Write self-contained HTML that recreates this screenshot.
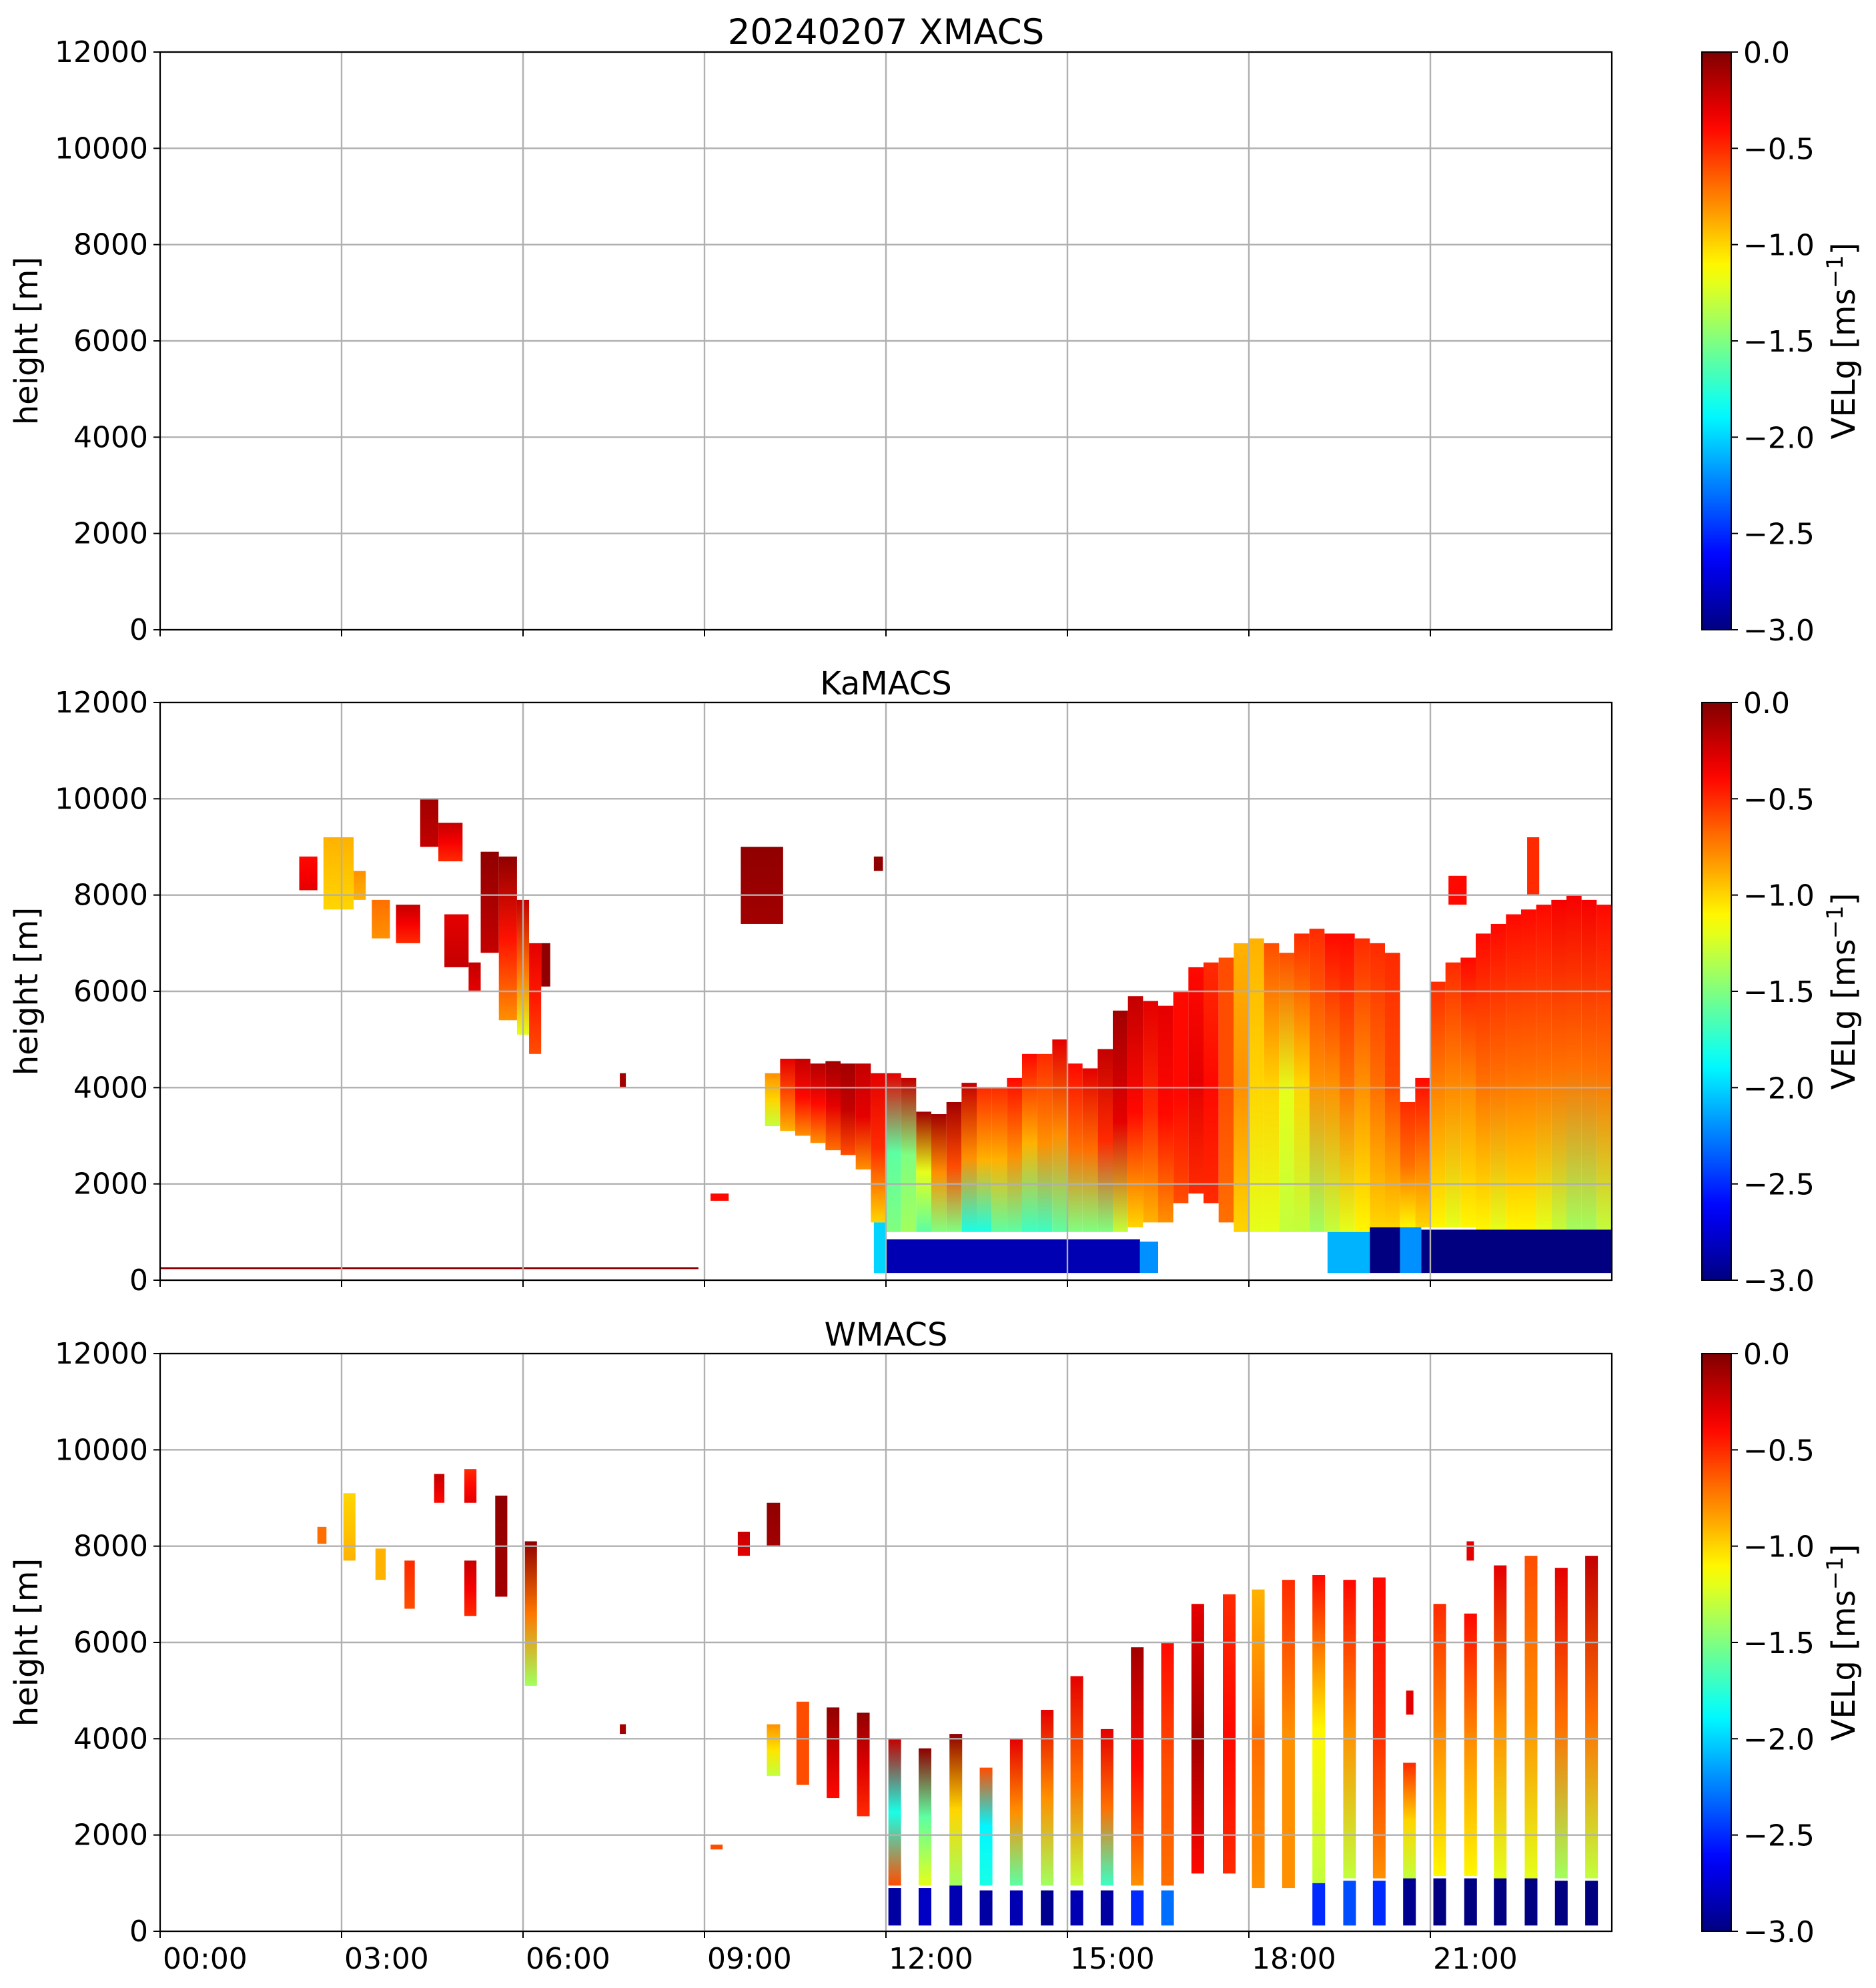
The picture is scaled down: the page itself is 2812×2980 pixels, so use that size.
<!DOCTYPE html>
<html><head><meta charset="utf-8">
<style>
html,body{margin:0;padding:0;background:#fff;}
svg{display:block;font-family:"DejaVu Sans","Liberation Sans",sans-serif;}
</style></head>
<body>
<svg id="fig" xmlns="http://www.w3.org/2000/svg" width="2812" height="2980" viewBox="0 0 2812 2980">
<defs id="defs"></defs>
<rect x="0" y="0" width="2812" height="2980" fill="#fff"/>
<g id="root"></g>
</svg>
<script>
// ---------- data ----------
const panelTitles = ["20240207 XMACS", "KaMACS", "WMACS"];
const heightTicks = [0, 2000, 4000, 6000, 8000, 10000, 12000];
const timeTicks = [0, 3, 6, 9, 12, 15, 18, 21];
const timeTickLabels = ["00:00", "03:00", "06:00", "09:00", "12:00", "15:00", "18:00", "21:00"];
const cbarTicks = [0, -0.5, -1, -1.5, -2, -2.5, -3];
const cbarTickLabels = ["0.0", "\u22120.5", "\u22121.0", "\u22121.5", "\u22122.0", "\u22122.5", "\u22123.0"];

// KaMACS main cloud columns (start hour, width 0.25 h)
const kaT = [10,10.25,10.5,10.75,11,11.25,11.5,11.75,12,12.25,12.5,12.75,13,13.25,13.5,13.75,14,14.25,14.5,14.75,15,15.25,15.5,15.75,16,16.25,16.5,16.75,17,17.25,17.5,17.75,18,18.25,18.5,18.75,19,19.25,19.5,19.75,20,20.25,20.5,20.75,21,21.25,21.5,21.75,22,22.25,22.5,22.75,23,23.25,23.5,23.75];
const kaTop = [4300,4600,4600,4500,4550,4500,4500,4300,4300,4200,3500,3450,3700,4100,4000,4000,4200,4700,4700,5000,4500,4400,4800,5600,5900,5800,5700,6000,6500,6600,6700,7000,7100,7000,6800,7200,7300,7200,7200,7100,7000,6800,3700,4200,6200,6600,6700,7200,7400,7600,7700,7800,7900,8000,7900,7800];
const kaBase = [3200,3100,3000,2850,2700,2600,2300,1200,1000,1000,1000,1000,1000,1000,1000,1000,1000,1000,1000,1000,1000,1000,1000,1000,1100,1200,1200,1600,1800,1600,1200,1000,1000,1000,1000,1000,1000,1000,1000,1000,1100,1100,1100,1100,1100,1100,1100,1050,1050,1050,1050,1050,1000,1000,1000,1000];
const kaVTop = [-0.8,-0.3,-0.2,-0.15,-0.1,-0.1,-0.2,-0.3,-0.3,-0.2,-0.1,-0.1,-0.1,-0.2,-0.5,-0.5,-0.4,-0.4,-0.5,-0.3,-0.4,-0.3,-0.2,-0.1,-0.2,-0.3,-0.3,-0.4,-0.4,-0.5,-0.6,-0.9,-0.9,-0.6,-0.6,-0.5,-0.5,-0.4,-0.4,-0.5,-0.5,-0.5,-0.5,-0.4,-0.5,-0.5,-0.4,-0.4,-0.4,-0.4,-0.4,-0.4,-0.35,-0.35,-0.35,-0.4];
const kaVMid = [-1.0,-0.6,-0.4,-0.4,-0.3,-0.2,-0.3,-0.5,-1.6,-1.5,-1.2,-0.8,-0.6,-0.8,-0.9,-0.9,-0.8,-0.9,-0.8,-0.8,-0.7,-0.7,-0.5,-0.3,-0.4,-0.5,-0.4,-0.4,-0.3,-0.4,-0.6,-0.8,-1.0,-1.0,-1.2,-1.0,-0.8,-0.8,-0.7,-0.8,-0.7,-0.6,-0.7,-0.7,-0.8,-0.8,-0.8,-0.7,-0.7,-0.7,-0.7,-0.7,-0.7,-0.7,-0.7,-0.7];
const kaVBot = [-1.3,-0.9,-0.8,-0.8,-0.7,-0.6,-0.8,-1.0,-1.5,-1.4,-1.6,-1.5,-1.5,-1.8,-1.8,-1.6,-1.6,-1.7,-1.7,-1.6,-1.5,-1.5,-1.5,-1.3,-1.0,-0.9,-0.8,-0.6,-0.5,-0.5,-0.7,-1.0,-1.2,-1.2,-1.3,-1.3,-1.4,-1.3,-1.2,-1.1,-1.0,-1.0,-1.1,-1.0,-1.1,-1.2,-1.1,-1.1,-1.2,-1.1,-1.1,-1.2,-1.3,-1.4,-1.4,-1.3];

// KaMACS rain layer
const kaRainT0 = [11.8,12.0,16.2,19.3,20.0,20.5,20.85];
const kaRainT1 = [12.0,16.2,16.5,20.0,20.5,20.85,24.0];
const kaRainTop = [1200,850,800,1000,1100,1100,1050];
const kaRainV = [-2.0,-2.85,-2.2,-2.1,-3.0,-2.2,-3.0];

// KaMACS isolated cloud blocks
const kaBlkT0 = [2.3,2.7,3.2,3.5,3.9,4.3,4.6,4.7,5.1,5.3,5.6,5.9,6.1,6.3,7.6,9.6,11.8,9.1,21.3,22.6];
const kaBlkT1 = [2.6,3.2,3.4,3.8,4.3,4.6,5.0,5.1,5.3,5.6,5.9,6.1,6.3,6.45,7.7,10.3,11.95,9.4,21.6,22.8];
const kaBlkBase = [8100,7700,7900,7100,7000,9000,8700,6500,6000,6800,5400,5100,4700,6100,4000,7400,8500,1650,7800,8000];
const kaBlkTop = [8800,9200,8500,7900,7800,10000,9500,7600,6600,8900,8800,7900,7000,7000,4300,9000,8800,1800,8400,9200];
const kaBlkVTop = [-0.4,-0.9,-0.8,-0.7,-0.2,-0.1,-0.2,-0.3,-0.2,-0.05,-0.05,-0.2,-0.3,-0.05,-0.1,-0.05,-0.05,-0.4,-0.4,-0.5];
const kaBlkVBot = [-0.3,-1.0,-0.9,-0.8,-0.5,-0.2,-0.5,-0.2,-0.3,-0.2,-0.8,-1.2,-0.6,-0.05,-0.1,-0.1,-0.05,-0.4,-0.4,-0.5];

// WMACS stripes (start hour, width 0.21 h)
const wT0 = [12.04,12.54,13.05,13.55,14.05,14.56,15.05,15.55,16.05,16.55,17.05,17.57,18.05,18.55,19.05,19.56,20.05,20.55,21.05,21.56,22.05,22.56,23.06,23.56];
const wTop = [4000,3800,4100,3400,4000,4600,5300,4200,5900,6000,6800,7000,7100,7300,7400,7300,7350,3500,6800,6600,7600,7800,7550,7800];
const wBase = [950,950,950,950,950,950,950,950,950,950,1200,1200,900,900,1000,1100,1100,1100,1150,1150,1100,1100,1100,1100];
const wVTop = [-0.2,-0.05,-0.05,-0.6,-0.3,-0.3,-0.3,-0.3,-0.1,-0.4,-0.3,-0.5,-0.9,-0.5,-0.4,-0.4,-0.4,-0.5,-0.5,-0.4,-0.3,-0.6,-0.3,-0.2];
const wVMid = [-1.8,-1.6,-1.0,-1.9,-0.8,-0.8,-0.7,-0.7,-0.4,-0.6,-0.1,-0.4,-0.7,-0.8,-1.1,-0.8,-0.5,-1.0,-0.8,-0.8,-0.8,-0.8,-0.7,-0.7];
const wVBot = [-0.6,-1.2,-1.4,-1.8,-1.6,-1.4,-1.3,-1.7,-0.8,-0.7,-0.4,-0.5,-0.8,-0.8,-1.3,-1.3,-0.8,-1.3,-1.1,-1.1,-1.2,-1.2,-1.4,-1.3];
const wRainTop = [900,900,950,850,850,850,850,850,850,850,0,0,0,0,1000,1050,1050,1100,1100,1100,1100,1100,1050,1050];
const wRainV = [-2.9,-2.8,-2.85,-2.9,-2.85,-2.95,-2.85,-2.9,-2.5,-2.3,0,0,0,0,-2.5,-2.4,-2.5,-2.95,-3.0,-3.0,-3.0,-3.0,-3.0,-3.0];

// WMACS isolated blocks
const wBlkT0 = [2.6,3.03,3.56,4.04,4.53,5.03,5.03,5.54,6.03,7.6,9.1,9.55,10.03,10.03,10.52,11.02,11.52,20.6,21.6];
const wBlkT1 = [2.75,3.23,3.73,4.21,4.70,5.23,5.23,5.74,6.23,7.7,9.3,9.75,10.25,10.25,10.73,11.23,11.73,20.72,21.72];
const wBlkBase = [8050,7700,7300,6700,8900,8900,6550,6950,5100,4100,1700,7800,8000,3230,3040,2770,2390,4500,7700];
const wBlkTop = [8400,9100,7950,7700,9500,9600,7700,9050,8100,4300,1800,8300,8900,4300,4770,4650,4540,5000,8100];
const wBlkVTop = [-0.7,-1.0,-0.9,-0.5,-0.2,-0.5,-0.2,-0.05,-0.05,-0.1,-0.6,-0.2,-0.05,-0.8,-0.6,-0.05,-0.05,-0.3,-0.3];
const wBlkVBot = [-0.7,-0.9,-0.9,-0.6,-0.4,-0.3,-0.5,-0.1,-1.4,-0.1,-0.6,-0.3,-0.1,-1.3,-0.6,-0.4,-0.5,-0.3,-0.3];

// ---------- layout ----------
const NS = "http://www.w3.org/2000/svg";
const AX_L = 240, AX_R = 2416, AX_H = 866;
const panelTops = [78, 1053, 2029];
const CB_L = 2551, CB_W = 44;
const root = document.getElementById("root");
const defs = document.getElementById("defs");

function xs(h){ return AX_L + h / 24 * (AX_R - AX_L); }
function ys(m, top){ return top + AX_H * (1 - m / 12000); }
function clamp(v){ return Math.max(0, Math.min(1, v)); }
function jet(v){
  const t = clamp((v + 3) / 3);
  const r = clamp(1.5 - Math.abs(4*t - 3));
  const g = clamp(1.5 - Math.abs(4*t - 2));
  const b = clamp(1.5 - Math.abs(4*t - 1));
  return "rgb(" + Math.round(r*255) + "," + Math.round(g*255) + "," + Math.round(b*255) + ")";
}
function mk(tag, attrs, parent){
  const e = document.createElementNS(NS, tag);
  for (const k in attrs) e.setAttribute(k, attrs[k]);
  (parent || root).appendChild(e);
  return e;
}
let gid = 0;
function grad(vals){
  const id = "g" + (gid++);
  const g = mk("linearGradient", {id: id, x1: 0, y1: 0, x2: 0, y2: 1}, defs);
  vals.forEach((v, i) => mk("stop", {offset: (i / (vals.length - 1)).toFixed(3), "stop-color": jet(v)}, g));
  return "url(#" + id + ")";
}
function text(x, y, s, size, anchor, parent, name, rot){
  const t = mk("text", {x: x, y: y, "font-size": size, "text-anchor": anchor, fill: "#000"}, parent);
  if (rot) t.setAttribute("transform", "rotate(-90 " + x + " " + y + ")");
  
  
  t.textContent = s;
  return t;
}

panelTops.forEach((top, p) => {
  const g = mk("g", {});
  
  
  const clipId = "clip" + p;
  const cp = mk("clipPath", {id: clipId}, defs);
  mk("rect", {x: AX_L, y: top, width: AX_R - AX_L, height: AX_H}, cp);
  const data = mk("g", {"clip-path": "url(#" + clipId + ")"}, g);
  
  

  function block(t0, t1, base, topM, vals, name){
    const r = mk("rect", {x: xs(t0), y: ys(topM, top), width: Math.max(1, xs(t1) - xs(t0)), height: Math.max(1, ys(base, top) - ys(topM, top)), fill: vals.length > 1 ? grad(vals) : jet(vals[0])}, data);
    
    
  }

  if (p === 1){
    block(0, 8.9, 230, 270, [-0.05], 'ground-clutter');
    kaBlkT0.forEach((t0, i) => block(t0, kaBlkT1[i], kaBlkBase[i], kaBlkTop[i], [kaBlkVTop[i], (kaBlkVTop[i]+kaBlkVBot[i])/2, kaBlkVBot[i]], 'cloud-cell'));
    kaT.forEach((t0, i) => block(t0, t0 + 0.25, kaBase[i], kaTop[i], [kaVTop[i], kaVMid[i], kaVBot[i]], 'cloud-column'));
    kaRainT0.forEach((t0, i) => block(t0, kaRainT1[i], 150, kaRainTop[i], [kaRainV[i]], 'rain-layer'));
  }
  if (p === 2){
    wBlkT0.forEach((t0, i) => block(t0, wBlkT1[i], wBlkBase[i], wBlkTop[i], [wBlkVTop[i], (wBlkVTop[i]+wBlkVBot[i])/2, wBlkVBot[i]], 'cloud-cell'));
    wT0.forEach((t0, i) => {
      block(t0, t0 + 0.21, wBase[i], wTop[i], [wVTop[i], wVMid[i], wVBot[i]], 'cloud-stripe');
      if (wRainTop[i] > 0) block(t0, t0 + 0.21, 120, wRainTop[i], [wRainV[i]], 'rain-stripe');
    });
  }

  timeTicks.forEach(h => { if (h > 0) mk("line", {x1: xs(h), x2: xs(h), y1: top, y2: top + AX_H, stroke: "#b0b0b0", "stroke-width": 2.4}, g); });
  heightTicks.forEach(m => mk("line", {x1: AX_L, x2: AX_R, y1: ys(m, top), y2: ys(m, top), stroke: "#b0b0b0", "stroke-width": 2.4}, g));
  const sp = mk("rect", {x: AX_L, y: top, width: AX_R - AX_L, height: AX_H, fill: "none", stroke: "#000", "stroke-width": 2.2}, g);
  
  
  heightTicks.forEach(m => {
    mk("line", {x1: AX_L - 10, x2: AX_L, y1: ys(m, top), y2: ys(m, top), stroke: "#000", "stroke-width": 2}, g);
    text(AX_L - 18, ys(m, top) + 15, String(m), 44, "end", g, 'y-tick-label');
  });
  timeTicks.forEach((h, i) => {
    mk("line", {x1: xs(h), x2: xs(h), y1: top + AX_H, y2: top + AX_H + 10, stroke: "#000", "stroke-width": 2}, g);
    if (p === 2) text(xs(h) + 4, top + AX_H + 56, timeTickLabels[i], 44, "start", g, 'x-tick-label');
  });
  text((AX_L + AX_R) / 2, top - 12, panelTitles[p], p === 0 ? 53 : 48, "middle", g, 'panel-title');
  text(56, top + AX_H / 2, "height [m]", 48, "middle", g, 'y-axis-title', true);

  const cb = mk("g", {}, g);
  
  
  const cbVals = [];
  for (let k = 0; k <= 30; k++) cbVals.push(-k / 10);
  mk("rect", {x: CB_L, y: top, width: CB_W, height: AX_H, fill: grad(cbVals), stroke: "#000", "stroke-width": 2}, cb);
  cbarTicks.forEach((v, i) => {
    const y = top + AX_H * (-v / 3);
    mk("line", {x1: CB_L + CB_W, x2: CB_L + CB_W + 10, y1: y, y2: y, stroke: "#000", "stroke-width": 2}, cb);
    text(CB_L + CB_W + 18, y + 16, cbarTickLabels[i], 44, "start", cb, 'colorbar-tick-label');
  });
  const lbl = mk("text", {x: 2780, y: top + AX_H / 2, "font-size": 48, "text-anchor": "middle", transform: "rotate(-90 2780 " + (top + AX_H / 2) + ")"}, cb);
  
  
  lbl.innerHTML = 'VELg [ms<tspan dy="-18" font-size="34">\u22121</tspan><tspan dy="18">]</tspan>';
});
</script>
</body></html>
